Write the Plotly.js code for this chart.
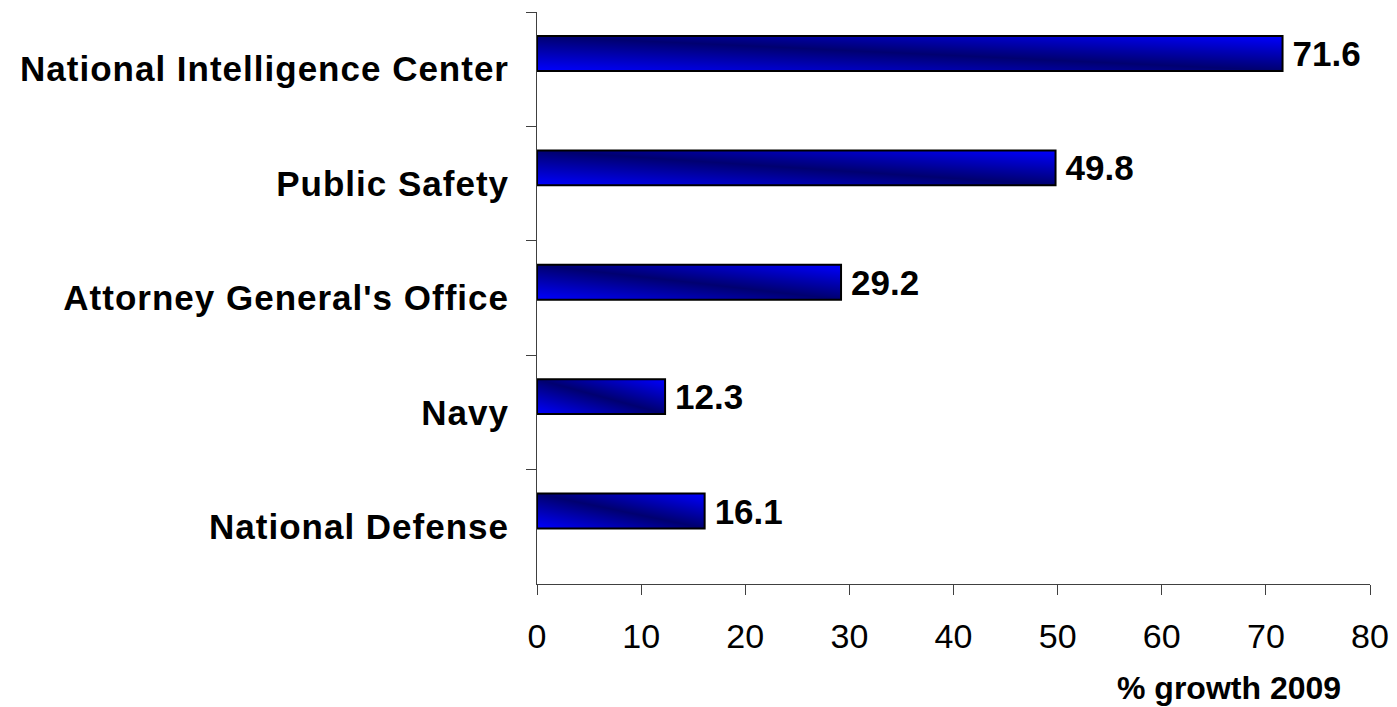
<!DOCTYPE html>
<html>
<head>
<meta charset="utf-8">
<script src="https://cdn.plot.ly/plotly-3.0.1.min.js"></script>
<style>
  html, body { margin: 0; padding: 0; background: #ffffff; }
  #chart { width: 1397px; height: 707px; }
  #chart .ytick text { letter-spacing: 1px; }
</style>
</head>
<body>
<div id="chart"></div>
<script>
// ---- data ----
const categories = [
  "National Intelligence Center",
  "Public Safety",
  "Attorney General's Office",
  "Navy",
  "National Defense"
];
const growth2009 = [71.6, 49.8, 29.2, 12.3, 16.1];
const xTickValues = [0, 10, 20, 30, 40, 50, 60, 70, 80];
const axisTitle = "% growth 2009";

const FONT = '"Liberation Sans", Arial, sans-serif';

const trace = {
  type: 'bar',
  orientation: 'h',
  x: growth2009,
  y: categories,
  width: 0.305,
  offset: -0.29,
  marker: { color: '#0000ff', line: { color: '#000000', width: 2 } },
  text: growth2009.map(v => '\u2009' + v.toFixed(1)),
  textposition: 'outside',
  textfont: { family: FONT, size: 35, color: '#000000', weight: 'bold' },
  constraintext: 'none',
  cliponaxis: false,
  hoverinfo: 'skip'
};

const layout = {
  width: 1397,
  height: 707,
  margin: { l: 537, r: 27, t: 12, b: 123 },
  paper_bgcolor: '#ffffff',
  plot_bgcolor: '#ffffff',
  showlegend: false,
  font: { family: FONT, color: '#000000' },
  xaxis: {
    range: [0, 80],
    tickvals: xTickValues,
    ticktext: xTickValues.map(String),
    showgrid: false,
    zeroline: false,
    showline: true,
    linecolor: '#404040',
    linewidth: 1,
    ticks: 'outside',
    ticklen: 10,
    tickcolor: '#404040',
    tickwidth: 1,
    tickfont: { family: FONT, size: 34, color: '#000000' },
    ticklabelstandoff: 12
  },
  yaxis: {
    type: 'category',
    categoryorder: 'array',
    categoryarray: categories,
    range: [4.5, -0.5],
    tickson: 'boundaries',
    showgrid: false,
    zeroline: false,
    showline: true,
    linecolor: '#404040',
    linewidth: 1,
    ticks: 'outside',
    ticklen: 10,
    tickcolor: '#404040',
    tickwidth: 1,
    tickfont: { family: FONT, size: 35, color: '#000000', weight: 'bold' },
    ticklabelstandoff: 20
  },
  annotations: [{
    text: '<b>' + axisTitle + '</b>',
    xref: 'paper', yref: 'paper',
    x: (1343 - 537) / 833, y: (584 - 688) / 572,
    xanchor: 'right', yanchor: 'middle',
    showarrow: false,
    font: { family: FONT, size: 32, color: '#000000' }
  }]
};

function applyGradient(gd) {
  const svg = gd.querySelector('svg.main-svg');
  if (!svg) return;
  let defs = svg.querySelector('defs');
  if (!defs) {
    defs = document.createElementNS('http://www.w3.org/2000/svg', 'defs');
    svg.insertBefore(defs, svg.firstChild);
  }
  if (!svg.querySelector('#barGrad')) {
    const ns = 'http://www.w3.org/2000/svg';
    const lg = document.createElementNS(ns, 'linearGradient');
    lg.setAttribute('id', 'barGrad');
    lg.setAttribute('gradientUnits', 'objectBoundingBox');
    lg.setAttribute('x1', '0'); lg.setAttribute('y1', '1');
    lg.setAttribute('x2', '1'); lg.setAttribute('y2', '0');
    [['0', '#0000ff'], ['0.5', '#000070'], ['1', '#0000ff']].forEach(([o, c]) => {
      const s = document.createElementNS(ns, 'stop');
      s.setAttribute('offset', o);
      s.setAttribute('stop-color', c);
      lg.appendChild(s);
    });
    defs.appendChild(lg);
  }
  gd.querySelectorAll('.trace.bars .point path').forEach(p => {
    p.style.fill = 'url(#barGrad)';
  });
}

const gd = document.getElementById('chart');
Plotly.newPlot(gd, [trace], layout, { staticPlot: true, displayModeBar: false })
  .then(() => { applyGradient(gd); gd.on('plotly_afterplot', () => applyGradient(gd)); });
</script>
</body>
</html>
